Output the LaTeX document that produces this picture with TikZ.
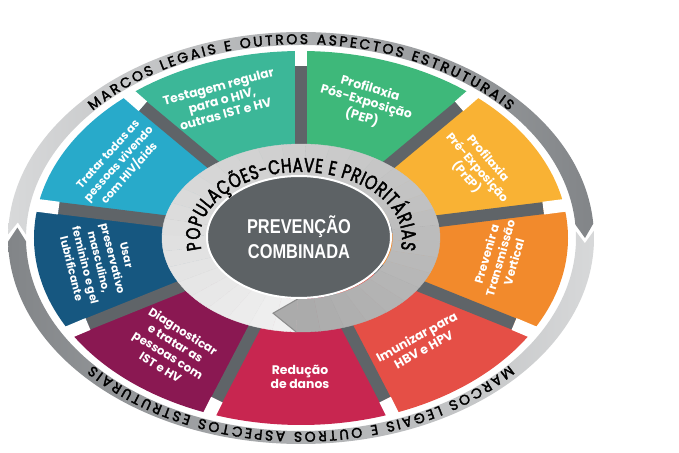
\documentclass[tikz,border=0pt]{standalone}
\usepackage{fontspec}
\setmainfont{Poppins}
\newfontfamily\corefont{Liberation Sans}[FakeStretch=0.82]
\newfontfamily\ringfont{Poppins}[FakeBold=2.2]
\newfontfamily\ringnarrow{Poppins}[FakeBold=2.2,FakeStretch=0.76]
\usetikzlibrary{decorations.text}

\definecolor{cTeste}{RGB}{60,183,152}
\definecolor{cTrata}{RGB}{40,170,202}
\definecolor{cUsar}{RGB}{22,87,128}
\definecolor{cDiag}{RGB}{138,24,82}
\definecolor{cReduz}{RGB}{200,38,80}
\definecolor{cImun}{RGB}{229,79,70}
\definecolor{cPrev}{RGB}{242,138,44}
\definecolor{cPrep}{RGB}{249,178,52}
\definecolor{cPep}{RGB}{62,184,122}
\definecolor{spokegray}{RGB}{95,100,104}
\definecolor{coregray}{RGB}{93,98,101}
\definecolor{ringtext}{RGB}{70,74,78}
\definecolor{ringlight}{RGB}{216,217,218}
\definecolor{ringdark}{RGB}{130,133,136}

\newcommand\innertype{\ringnarrow\fontsize{15}{15}\selectfont}
\newcommand\outertype{\ringfont\fontsize{10.5}{10.5}\selectfont}

\tikzset{
  seglabel/.style={text=white, align=center, inner sep=0pt,
    font=\bfseries\fontsize{#1}{10.6}\selectfont},
  seglabel/.default=9.3,
  corelabel/.style={text=white, align=center,
    font=\corefont\bfseries\fontsize{15}{18.5}\selectfont},
  spoke/.style={line width=9pt, spokegray},
  spokeend/.style={line width=9.6pt, white},
  ringletters/.style={decorate, text=ringtext, decoration={text along path,
    text align=fit to path, text={#1}}}
}

\begin{document}
\begin{tikzpicture}[x=0.75pt, y=0.75pt]
    \useasboundingbox (-301,-215) rectangle (378,238);

    % outer ring, two arrows
    \shade[left color=ringlight, right color=ringdark]
        (179:293 and 206) arc[start angle=179, end angle=4, x radius=293, y radius=206]
        -- (0:284 and 199.5) -- (4:275 and 193)
        arc[start angle=4, end angle=179, x radius=275, y radius=193]
        -- (175.5:284 and 199.5) -- cycle;
    \shade[left color=ringdark, right color=ringlight]
        (2:293 and 206) arc[start angle=2, end angle=-179, x radius=293, y radius=206]
        -- (-183:284 and 199.5) -- (-179:275 and 193)
        arc[start angle=-179, end angle=2, x radius=275, y radius=193]
        -- (-1.5:284 and 199.5) -- cycle;

    % coloured segments
    \foreach \a/\c in {90/cTeste,130/cTrata,170/cUsar,210/cDiag,250/cReduz,
                       290/cImun,330/cPrev,10/cPrep,50/cPep}
        \fill[\c] (0,0) -- (\a:267 and 187)
            arc[start angle=\a, delta angle=40, x radius=267, y radius=187] -- cycle;
    \foreach \a in {10,50,...,330}{
        \draw[spoke] (0,0) -- (\a:246 and 172);
        \draw[spokeend] (\a:246 and 172) -- (\a:272 and 191);
    }

    % inner ring, one arrow
    \foreach \i in {0,...,35}{
        \pgfmathsetmacro\aS{268-10*\i}
        \pgfmathsetmacro\aE{258-10*\i}
        \pgfmathsetmacro\tone{6+27*\i/35}
        \filldraw[black!\tone, line width=0.3pt] (\aS:139 and 94)
            arc[start angle=\aS, end angle=\aE, x radius=139, y radius=94]
            -- (\aE:92 and 61)
            arc[start angle=\aE, end angle=\aS, x radius=92, y radius=61] -- cycle;
    }
    \fill[black!33] (-92:139 and 94) -- (-104:115.5 and 77.5) -- (-92:92 and 61) -- cycle;
    \draw[black!45, line width=0.8pt] (-92:139 and 94) -- (-104:115.5 and 77.5) -- (-92:92 and 61);

    \filldraw[coregray, draw=white, line width=1.5pt] (-2,1) ellipse[x radius=92, y radius=61];
    \node[corelabel] (core) at (-2,1) {PREVENÇÃO\\COMBINADA};

    % ring texts
    \path[font=\innertype, ringletters={|\innertype|POPULAÇÕES-CHAVE E PRIORITÁRIAS}]
        (190:101 and 66) arc[start angle=190, end angle=-10, x radius=101, y radius=66];
    \path[font=\outertype, ringletters={|\outertype|MARCOS LEGAIS E OUTROS ASPECTOS ESTRUTURAIS}]
        (139:276 and 194) arc[start angle=139, end angle=41, x radius=276, y radius=194];
    \path[font=\outertype, ringletters={|\outertype|MARCOS LEGAIS E OUTROS ASPECTOS ESTRUTURAIS}]
        (-41:276 and 194) arc[start angle=-41, end angle=-139, x radius=276, y radius=194];

    % segment labels
    \node[seglabel, rotate=15] (testagem) at (-79,138) {Testagem regular\\para o HIV,\\outras IST e HV};
    \node[seglabel=8.4, rotate=48] (tratar) at (-182,74) {Tratar todas as\\pessoas vivendo\\com HIV/aids};
    \node[seglabel=8.2, rotate=-76] (usar) at (-202,-24) {Usar\\preservativo\\masculino,\\feminino e gel\\lubrificante};
    \node[seglabel=8.8, rotate=-32] (diagnosticar) at (-129,-111) {Diagnosticar\\e tratar as\\pessoas com\\IST e HV};
    \node[seglabel] (reducao) at (-1,-139) {Redução\\de danos};
    \node[seglabel, rotate=29] (imunizar) at (119,-105) {Imunizar para\\HBV e HPV};
    \node[seglabel=8.8, rotate=74] (prevenir) at (199,-20) {Prevenir a\\Transmissão\\Vertical};
    \node[seglabel=8.8, rotate=-49] (prep) at (176,70) {Profilaxia\\Pré-Exposição\\(PrEP)};
    \node[seglabel, rotate=-16] (pep) at (65,135) {Profilaxia\\Pós-Exposição\\(PEP)};
\end{tikzpicture}
\end{document}
